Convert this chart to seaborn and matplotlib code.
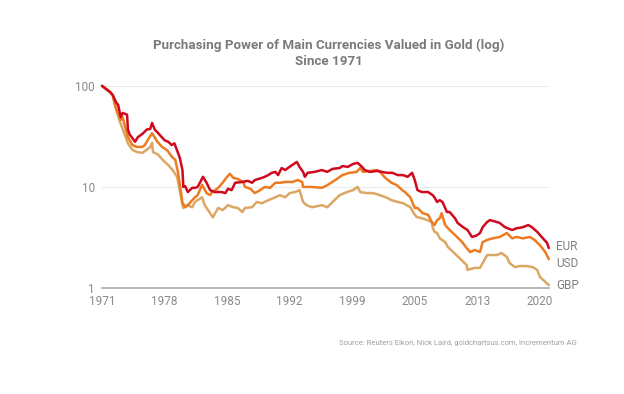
import numpy as np
import pandas as pd
import matplotlib
matplotlib.use("Agg")
import matplotlib.pyplot as plt
import seaborn as sns

# Purchasing power of currencies valued in gold (1971 = 100)
eur_years = [1971.0, 1971.9, 1972.2, 1972.6, 1972.8, 1973.1, 1973.3, 1973.8, 1973.9, 1974.1,
             1974.7, 1975.0, 1975.6, 1976.0, 1976.4, 1976.6, 1976.9, 1977.3, 1977.7, 1978.0,
             1978.4, 1978.8, 1979.1, 1979.4, 1979.7, 1980.0, 1980.1, 1980.3, 1980.6, 1981.1,
             1981.4, 1981.7, 1982.3, 1982.7, 1983.1, 1983.6, 1984.4, 1984.8, 1985.1, 1985.5,
             1985.9, 1986.7, 1987.3, 1987.8, 1988.1, 1988.9, 1989.2, 1989.6, 1990.0, 1990.4,
             1990.7, 1991.1, 1991.5, 1991.8, 1992.3, 1992.8, 1993.1, 1993.5, 1993.7, 1994.0,
             1994.8, 1995.6, 1996.2, 1996.8, 1997.6, 1997.9, 1998.5, 1999.1, 1999.6, 2000.1,
             2000.4, 2001.0, 2001.8, 2002.3, 2002.9, 2003.5, 2004.1, 2004.7, 2005.2, 2005.7,
             2006.0, 2006.3, 2006.8, 2007.5, 2008.0, 2008.2, 2008.5, 2008.8, 2009.1, 2009.6,
             2009.9, 2010.5, 2010.8, 2011.4, 2011.9, 2012.4, 2012.9, 2013.3, 2013.6, 2014.1,
             2014.4, 2015.2, 2015.5, 2016.1, 2016.4, 2016.9, 2017.4, 2018.1, 2018.7, 2019.1,
             2019.7, 2020.2, 2020.8, 2021.0]
eur_values = [100, 87, 81, 68, 65, 49, 54, 52, 37, 33,
              28, 31, 34, 37, 37.5, 43, 37, 34, 31, 29,
              28, 26, 27, 23, 19.5, 14.7, 10.0, 10.2, 8.9, 9.8,
              9.8, 10.0, 12.6, 11.0, 9.3, 8.9, 8.9, 8.7, 9.6, 9.3,
              11.0, 11.2, 11.5, 11.0, 11.7, 12.3, 12.6, 13.1, 13.8, 14.1,
              13.1, 15.4, 14.7, 15.4, 16.5, 17.7, 15.8, 14.1, 12.6, 13.8,
              14.1, 14.7, 14.1, 15.1, 15.4, 16.1, 15.8, 16.9, 17.3, 15.8,
              14.7, 14.1, 14.4, 14.1, 13.8, 13.8, 13.1, 13.1, 12.6, 13.8,
              11.7, 9.3, 8.9, 8.9, 8.3, 7.9, 7.1, 7.4, 7.1, 5.65,
              5.65, 4.9, 4.4, 4.0, 3.75, 3.2, 3.3, 3.5, 4.0, 4.5,
              4.7, 4.5, 4.4, 4.0, 3.9, 3.75, 3.9, 4.0, 4.2, 4.0,
              3.6, 3.2, 2.8, 2.49]

usd_years = [1971.0, 1971.9, 1972.2, 1972.5, 1973.1, 1973.3, 1973.9, 1974.4, 1974.9, 1975.5,
             1975.8, 1976.1, 1976.6, 1977.2, 1977.7, 1978.3, 1978.8, 1979.2, 1979.5, 1979.8,
             1980.0, 1980.3, 1980.6, 1981.1, 1981.4, 1981.7, 1982.2, 1982.7, 1983.1, 1983.3,
             1983.9, 1984.5, 1984.9, 1985.3, 1985.7, 1986.2, 1986.8, 1987.0, 1987.6, 1988.1,
             1988.7, 1989.2, 1989.8, 1990.4, 1990.9, 1991.5, 1992.3, 1992.9, 1993.4, 1993.5,
             1994.5, 1995.6, 1996.2, 1997.1, 1997.9, 1998.7, 1999.5, 1999.9, 2000.2, 2001.0,
             2001.8, 2002.1, 2002.7, 2003.0, 2003.4, 2004.0, 2004.6, 2004.9, 2005.5, 2006.0,
             2006.3, 2006.9, 2007.5, 2007.9, 2008.2, 2008.5, 2008.8, 2009.0, 2009.4, 2009.9,
             2010.5, 2011.3, 2011.8, 2012.2, 2012.7, 2013.3, 2013.6, 2014.1, 2014.7, 2015.5,
             2016.3, 2016.9, 2017.4, 2018.1, 2018.9, 2019.4, 2020.0, 2020.6, 2021.0]
usd_values = [100, 87, 81, 62, 46, 49, 31, 26, 24.9, 24.9,
              26, 29, 34, 28, 25, 23, 20, 18.5, 14.0, 9.3,
              7.0, 6.3, 6.6, 7.4, 7.9, 8.3, 10.5, 8.7, 8.3, 8.9,
              9.6, 11.0, 12.3, 13.5, 12.3, 12.0, 11.2, 10.0, 9.6, 8.7,
              9.3, 10.0, 9.8, 11.0, 11.0, 11.2, 11.2, 11.7, 11.2, 10.0,
              10.0, 9.8, 10.4, 11.7, 13.1, 13.8, 14.1, 15.4, 14.1, 14.4,
              14.7, 14.1, 12.3, 11.7, 11.0, 10.4, 9.3, 8.9, 7.9, 6.2,
              6.2, 5.5, 5.3, 4.5, 4.2, 4.7, 4.9, 5.5, 4.2, 3.75,
              3.35, 2.85, 2.49, 2.27, 2.38, 2.27, 2.85, 2.99, 3.1, 3.2,
              3.5, 3.1, 3.2, 3.1, 3.2, 2.99, 2.66, 2.27, 1.94]

gbp_years = [1971.0, 1971.9, 1972.2, 1972.5, 1973.0, 1973.1, 1973.9, 1974.4, 1974.9, 1975.5,
             1976.0, 1976.4, 1976.6, 1976.7, 1977.3, 1977.8, 1978.4, 1978.9, 1979.4, 1979.7,
             1980.0, 1980.1, 1980.5, 1981.1, 1981.4, 1981.7, 1982.2, 1982.5, 1983.1, 1983.4,
             1984.0, 1984.5, 1985.1, 1985.7, 1986.2, 1986.7, 1987.0, 1987.8, 1988.3, 1988.9,
             1989.6, 1990.4, 1990.9, 1991.5, 1992.0, 1992.6, 1993.1, 1993.5, 1993.9, 1994.5,
             1995.6, 1996.2, 1996.8, 1997.6, 1998.4, 1999.1, 1999.6, 1999.9, 2000.6, 2001.3,
             2002.1, 2002.9, 2003.4, 2004.1, 2004.7, 2005.5, 2005.8, 2006.2, 2006.8, 2007.4,
             2007.9, 2008.0, 2008.2, 2008.5, 2008.8, 2009.4, 2009.7, 2010.3, 2011.0, 2011.8,
             2011.9, 2012.7, 2013.3, 2013.6, 2014.1, 2014.6, 2015.2, 2015.7, 2016.3, 2016.6,
             2017.2, 2017.8, 2018.5, 2019.2, 2019.7, 2020.0, 2020.6, 2021.0]
gbp_values = [100, 87, 81, 62, 44, 42, 27, 23.3, 22.2, 21.7,
              23.3, 24.9, 27.3, 22.2, 20.8, 18.5, 16.5, 14.7, 12.6, 9.3,
              6.6, 6.2, 6.6, 6.3, 7.1, 7.4, 7.9, 6.6, 5.5, 5.0,
              6.2, 5.9, 6.6, 6.3, 6.2, 5.65, 6.2, 6.3, 7.1, 6.9,
              7.4, 7.9, 8.3, 7.9, 8.7, 8.9, 9.3, 7.1, 6.6, 6.3,
              6.6, 6.3, 7.1, 8.3, 8.9, 9.3, 10.0, 8.9, 8.7, 8.7,
              8.3, 7.8, 7.4, 7.1, 6.9, 6.3, 5.65, 5.05, 4.9, 4.7,
              4.5, 4.0, 3.6, 3.5, 3.1, 2.85, 2.55, 2.27, 1.98, 1.69,
              1.51, 1.58, 1.58, 1.77, 2.12, 2.12, 2.12, 2.22, 2.03, 1.77,
              1.61, 1.65, 1.65, 1.61, 1.51, 1.29, 1.15, 1.07]

tick_years = [1971, 1978, 1985, 1992, 1999, 2006, 2013, 2020]
tick_labels = ["1971", "1978", "1985", "1992", "1999", "2005", "2013", "2020"]

df = pd.concat([
    pd.DataFrame({"year": eur_years, "value": eur_values, "currency": "EUR"}),
    pd.DataFrame({"year": usd_years, "value": usd_values, "currency": "USD"}),
    pd.DataFrame({"year": gbp_years, "value": gbp_values, "currency": "GBP"}),
])

colors = {"EUR": "#cf0a1e", "USD": "#ec7b22", "GBP": "#dca664"}

sns.set_style("white")
plt.rcParams["font.family"] = ["Roboto", "DejaVu Sans"]

fig = plt.figure(figsize=(6.24, 3.94), dpi=100)
ax = fig.add_axes([0.1635, 0.269, 0.716, 0.513])

sns.lineplot(data=df, x="year", y="value", hue="currency", palette=colors,
             hue_order=["GBP", "USD", "EUR"], linewidth=1.8, legend=False,
             estimator=None, sort=False, ax=ax, clip_on=False)

ax.set_yscale("log")
ax.set_ylim(1, 100)
ax.set_xlim(1971, 2021)
ax.set_yticks([1, 10, 100])
ax.set_yticklabels(["1", "10", "100"])
ax.minorticks_off()
ax.set_xticks(tick_years)
ax.set_xticklabels(tick_labels)
ax.tick_params(axis="both", length=0, labelsize=8.5, colors="#8a8a8a", pad=5)
ax.set_xlabel("")
ax.set_ylabel("")

for y in [10, 100]:
    ax.axhline(y, color="#ebebeb", lw=0.8, zorder=0)
for s in ["top", "right", "left"]:
    ax.spines[s].set_visible(False)
ax.spines["bottom"].set_color("#aaaaaa")
ax.spines["bottom"].set_linewidth(1.2)

# end labels, nudged apart vertically like the original
nudge = {"EUR": 1, "USD": -3, "GBP": 0}
for cur, vals in [("EUR", eur_values), ("USD", usd_values), ("GBP", gbp_values)]:
    ax.annotate(cur, xy=(2021, vals[-1]), xytext=(5, nudge[cur]), textcoords="offset points",
                va="center", ha="left", fontsize=8.5, color="#808080", annotation_clip=False)

fig.text(0.527, 0.885, "Purchasing Power of Main Currencies Valued in Gold (log)",
         ha="center", va="center", fontsize=9.6, fontweight="bold", color="#7a7a7e")
fig.text(0.527, 0.843, "Since 1971", ha="center", va="center", fontsize=9.6,
         fontweight="bold", color="#7a7a7e")
fig.text(0.925, 0.129, "Source: Reuters Eikon, Nick Laird, goldchartsus.com, Incrementum AG",
         ha="right", va="center", fontsize=5.5, color="#a0a0a0")

fig.savefig("out.png", dpi=100)
